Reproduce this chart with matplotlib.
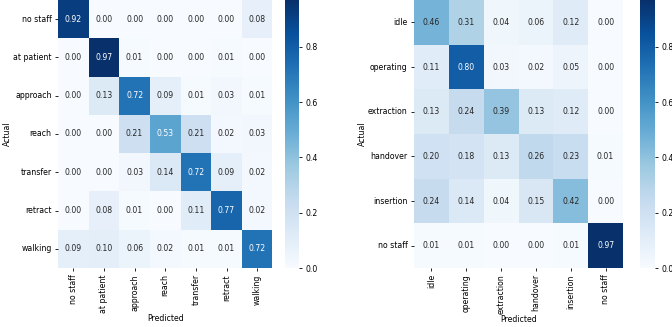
import numpy as np
import matplotlib
matplotlib.use("Agg")
import matplotlib.pyplot as plt
import seaborn as sns

labels_a = ["no staff", "at patient", "approach", "reach", "transfer", "retract", "walking"]
cm_a = [
    [0.92, 0.00, 0.00, 0.00, 0.00, 0.00, 0.08],
    [0.00, 0.97, 0.01, 0.00, 0.00, 0.01, 0.00],
    [0.00, 0.13, 0.72, 0.09, 0.01, 0.03, 0.01],
    [0.00, 0.00, 0.21, 0.53, 0.21, 0.02, 0.03],
    [0.00, 0.00, 0.03, 0.14, 0.72, 0.09, 0.02],
    [0.00, 0.08, 0.01, 0.00, 0.11, 0.77, 0.02],
    [0.09, 0.10, 0.06, 0.02, 0.01, 0.01, 0.72],
]

labels_b = ["idle", "operating", "extraction", "handover", "insertion", "no staff"]
cm_b = [
    [0.46, 0.31, 0.04, 0.06, 0.12, 0.00],
    [0.11, 0.80, 0.03, 0.02, 0.05, 0.00],
    [0.13, 0.24, 0.39, 0.13, 0.12, 0.00],
    [0.20, 0.18, 0.13, 0.26, 0.23, 0.01],
    [0.24, 0.14, 0.04, 0.15, 0.42, 0.00],
    [0.01, 0.01, 0.00, 0.00, 0.01, 0.97],
]

W, H = 672, 327
fig = plt.figure(figsize=(W / 100, H / 100), dpi=100)

def box(x0, x1, y0, y1):
    return [x0 / W, 1 - y1 / H, (x1 - x0) / W, (y1 - y0) / H]

fs = 5.6
panels = [
    (cm_a, labels_a, box(58, 272.5, 0, 268), box(285, 299, 0, 268)),
    (cm_b, labels_b, box(414, 623, 0, 268), box(640, 655, 0, 268)),
]
for cm, labels, hbox, cbox in panels:
    ax = fig.add_axes(hbox)
    cax = fig.add_axes(cbox)
    sns.heatmap(np.array(cm), annot=True, fmt=".2f", cmap="Blues", ax=ax, cbar_ax=cax,
                xticklabels=labels, yticklabels=labels, annot_kws={"size": fs})
    ax.tick_params(labelsize=fs, length=2.5, width=0.6, pad=2)
    ax.set_xticklabels(labels, rotation=90)
    ax.set_yticklabels(labels, rotation=0)
    ax.set_xlabel("Predicted", fontsize=fs, labelpad=1)
    ax.set_ylabel("Actual", fontsize=fs, labelpad=1)
    cax.tick_params(labelsize=fs, length=2.5, width=0.6, pad=2)
    cax.set_yticks([0.0, 0.2, 0.4, 0.6, 0.8])

fig.savefig("out.png", dpi=100)
